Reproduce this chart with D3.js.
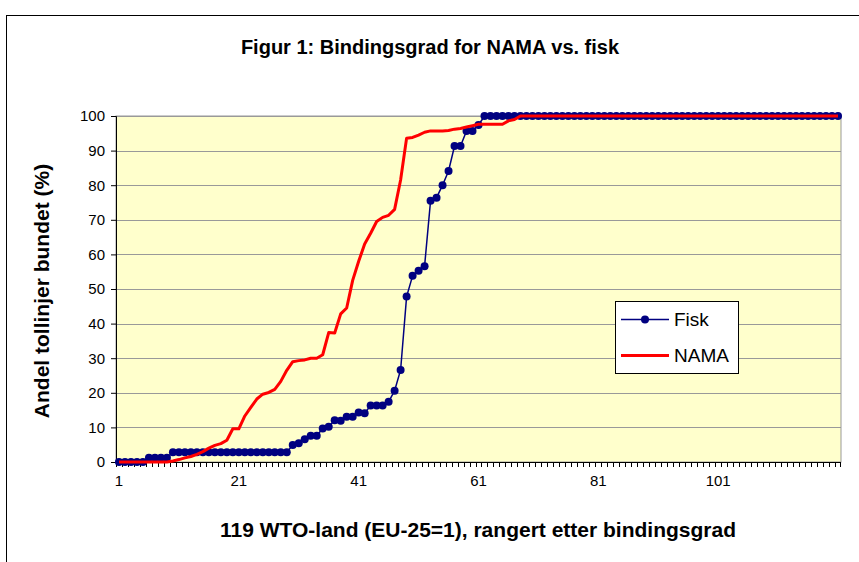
<!DOCTYPE html>
<html>
<head>
<meta charset="utf-8">
<script src="https://cdn.jsdelivr.net/npm/d3@7"></script>
<style>
body { margin: 0; background: #fff; }
text { font-family: "Liberation Sans", Arial, sans-serif; fill: #000; }
</style>
</head>
<body>
<div id="chart"></div>
<script>
// andel tollinjer bundet (%), land rangert etter bindingsgrad
var fisk = [
  0, 0, 0, 0, 0, 1.2, 1.2, 1.2, 1.2, 2.8,
  2.8, 2.8, 2.8, 2.8, 2.8, 2.8, 2.8, 2.8, 2.8, 2.8,
  2.8, 2.8, 2.8, 2.8, 2.8, 2.8, 2.8, 2.8, 2.8, 4.9,
  5.4, 6.6, 7.6, 7.6, 9.7, 10.2, 12.1, 11.9, 13.1, 13.1,
  14.3, 14.1, 16.3, 16.3, 16.3, 17.4, 20.6, 26.6, 47.8, 53.8,
  55.3, 56.6, 75.5, 76.4, 80.0, 84.1, 91.3, 91.3, 95.7, 95.7,
  97.4, 100, 100, 100, 100, 100, 100, 100, 100, 100,
  100, 100, 100, 100, 100, 100, 100, 100, 100, 100,
  100, 100, 100, 100, 100, 100, 100, 100, 100, 100,
  100, 100, 100, 100, 100, 100, 100, 100, 100, 100,
  100, 100, 100, 100, 100, 100, 100, 100, 100, 100,
  100, 100, 100, 100, 100, 100, 100, 100, 100, 100,
  100
];
var nama = [
  0, 0, 0, 0, 0, 0, 0, 0, 0, 0.3,
  0.7, 1.2, 1.6, 2.2, 3.0, 4.0, 4.8, 5.3, 6.3, 9.6,
  9.6, 13.3, 15.8, 18.2, 19.6, 20.1, 21.0, 23.3, 26.5, 29.0,
  29.3, 29.5, 30.0, 30.0, 31.0, 37.4, 37.3, 42.8, 44.5, 52.5,
  58.0, 63.0, 66.1, 69.5, 70.7, 71.3, 73.0, 81.5, 93.6, 93.8,
  94.5, 95.3, 95.7, 95.7, 95.7, 95.8, 96.2, 96.4, 96.8, 97.2,
  97.6, 97.6, 97.6, 97.6, 97.6, 98.6, 99.0, 100, 100, 100,
  100, 100, 100, 100, 100, 100, 100, 100, 100, 100,
  100, 100, 100, 100, 100, 100, 100, 100, 100, 100,
  100, 100, 100, 100, 100, 100, 100, 100, 100, 100,
  100, 100, 100, 100, 100, 100, 100, 100, 100, 100,
  100, 100, 100, 100, 100, 100, 100, 100, 100, 100,
  100
];
var categories = d3.range(1, fisk.length + 1);
var xLabels = [1, 21, 41, 61, 81, 101];
var yTicks = [0, 10, 20, 30, 40, 50, 60, 70, 80, 90, 100];
var seriesNames = ["Fisk", "NAMA"];

var fullWidth = 859;
var fullHeight = 562;
var margin = {top: 116, right: 18, bottom: 100, left: 116};
var width = fullWidth - margin.left - margin.right;
var height = fullHeight - margin.top - margin.bottom;

var x = d3.scaleBand().domain(categories).range([0, width]).paddingInner(0).paddingOuter(0);
var y = d3.scaleLinear().domain([0, 100]).range([height, 0]);
var cx = function(d) { return x(d) + x.bandwidth() / 2; };

var svg = d3.select("#chart")
  .append("svg")
    .attr("width", fullWidth)
    .attr("height", fullHeight);

// chart frame
svg.append("rect")
  .attr("x", 6.5).attr("y", 15.5)
  .attr("width", 900).attr("height", 600)
  .attr("fill", "#fff")
  .attr("stroke", "#000")
  .attr("stroke-width", 1);

svg.append("text")
  .attr("x", 430).attr("y", 54)
  .attr("text-anchor", "middle")
  .style("font-size", "20px")
  .style("font-weight", "bold")
  .text("Figur 1: Bindingsgrad for NAMA vs. fisk");

var g = svg.append("g")
  .attr("transform", "translate(" + margin.left + "," + margin.top + ")");

g.append("rect")
  .attr("width", width).attr("height", height)
  .attr("fill", "#ffffcc")
  .attr("stroke", "#999")
  .attr("stroke-width", 1);

g.append("g")
  .selectAll("line")
  .data(yTicks.slice(1))
  .enter().append("line")
    .attr("x1", 0).attr("x2", width)
    .attr("y1", function(d) { return Math.round(y(d)) + 0.5; })
    .attr("y2", function(d) { return Math.round(y(d)) + 0.5; })
    .attr("stroke", "#999")
    .attr("stroke-width", 1);

// y axis
var yAxis = g.append("g")
  .call(d3.axisLeft(y).tickValues(yTicks).tickSize(5).tickPadding(6));
yAxis.select(".domain").attr("stroke", "#000");
yAxis.selectAll("text").style("font-size", "15px");

// x axis: ticks between categories, labels every 20
var xAxis = g.append("g")
  .attr("transform", "translate(0," + height + ")");
xAxis.append("line")
  .attr("x1", 0).attr("x2", width)
  .attr("y1", 0.5).attr("y2", 0.5)
  .attr("stroke", "#000");
xAxis.selectAll(".tick-mark")
  .data(categories.concat([categories.length + 1]))
  .enter().append("line")
    .attr("class", "tick-mark")
    .attr("x1", function(d) { return d <= categories.length ? Math.round(x(d)) + 0.5 : width - 0.5; })
    .attr("x2", function(d) { return d <= categories.length ? Math.round(x(d)) + 0.5 : width - 0.5; })
    .attr("y1", 0).attr("y2", 5)
    .attr("stroke", "#000");
xAxis.selectAll(".xlabel")
  .data(xLabels)
  .enter().append("text")
    .attr("class", "xlabel")
    .attr("x", cx)
    .attr("y", 24)
    .attr("text-anchor", "middle")
    .style("font-size", "15px")
    .text(function(d) { return d; });

svg.append("text")
  .attr("x", 478).attr("y", 537)
  .attr("text-anchor", "middle")
  .style("font-size", "21px")
  .style("font-weight", "bold")
  .text("119 WTO-land (EU-25=1), rangert etter bindingsgrad");

svg.append("text")
  .attr("transform", "translate(49,291) rotate(-90)")
  .attr("text-anchor", "middle")
  .style("font-size", "21px")
  .style("font-weight", "bold")
  .text("Andel tollinjer bundet (%)");

var line = d3.line()
  .x(function(d, i) { return cx(categories[i]); })
  .y(function(d) { return y(d); });

g.append("path")
  .datum(fisk)
  .attr("fill", "none")
  .attr("stroke", "#000080")
  .attr("stroke-width", 1.5)
  .attr("d", line);

g.selectAll(".dot")
  .data(fisk)
  .enter().append("circle")
    .attr("class", "dot")
    .attr("cx", function(d, i) { return cx(categories[i]); })
    .attr("cy", function(d) { return y(d); })
    .attr("r", 4)
    .attr("fill", "#000080");

g.append("path")
  .datum(nama)
  .attr("fill", "none")
  .attr("stroke", "#ff0000")
  .attr("stroke-width", 3)
  .attr("stroke-linejoin", "round")
  .attr("d", line);

// legend
var legend = svg.append("g").attr("transform", "translate(615,301)");
legend.append("rect")
  .attr("x", 0.5).attr("y", 0.5)
  .attr("width", 123).attr("height", 72)
  .attr("fill", "#fff")
  .attr("stroke", "#000");
legend.append("line")
  .attr("x1", 6).attr("x2", 54).attr("y1", 18.5).attr("y2", 18.5)
  .attr("stroke", "#000080").attr("stroke-width", 1.5);
legend.append("circle")
  .attr("cx", 30).attr("cy", 18.5).attr("r", 4)
  .attr("fill", "#000080");
legend.append("line")
  .attr("x1", 6).attr("x2", 54).attr("y1", 54.5).attr("y2", 54.5)
  .attr("stroke", "#ff0000").attr("stroke-width", 3);
legend.selectAll(".ltext")
  .data(seriesNames)
  .enter().append("text")
    .attr("class", "ltext")
    .attr("x", 59)
    .attr("y", function(d, i) { return 25 + i * 36; })
    .style("font-size", "19px")
    .text(function(d) { return d; });
</script>
</body>
</html>
